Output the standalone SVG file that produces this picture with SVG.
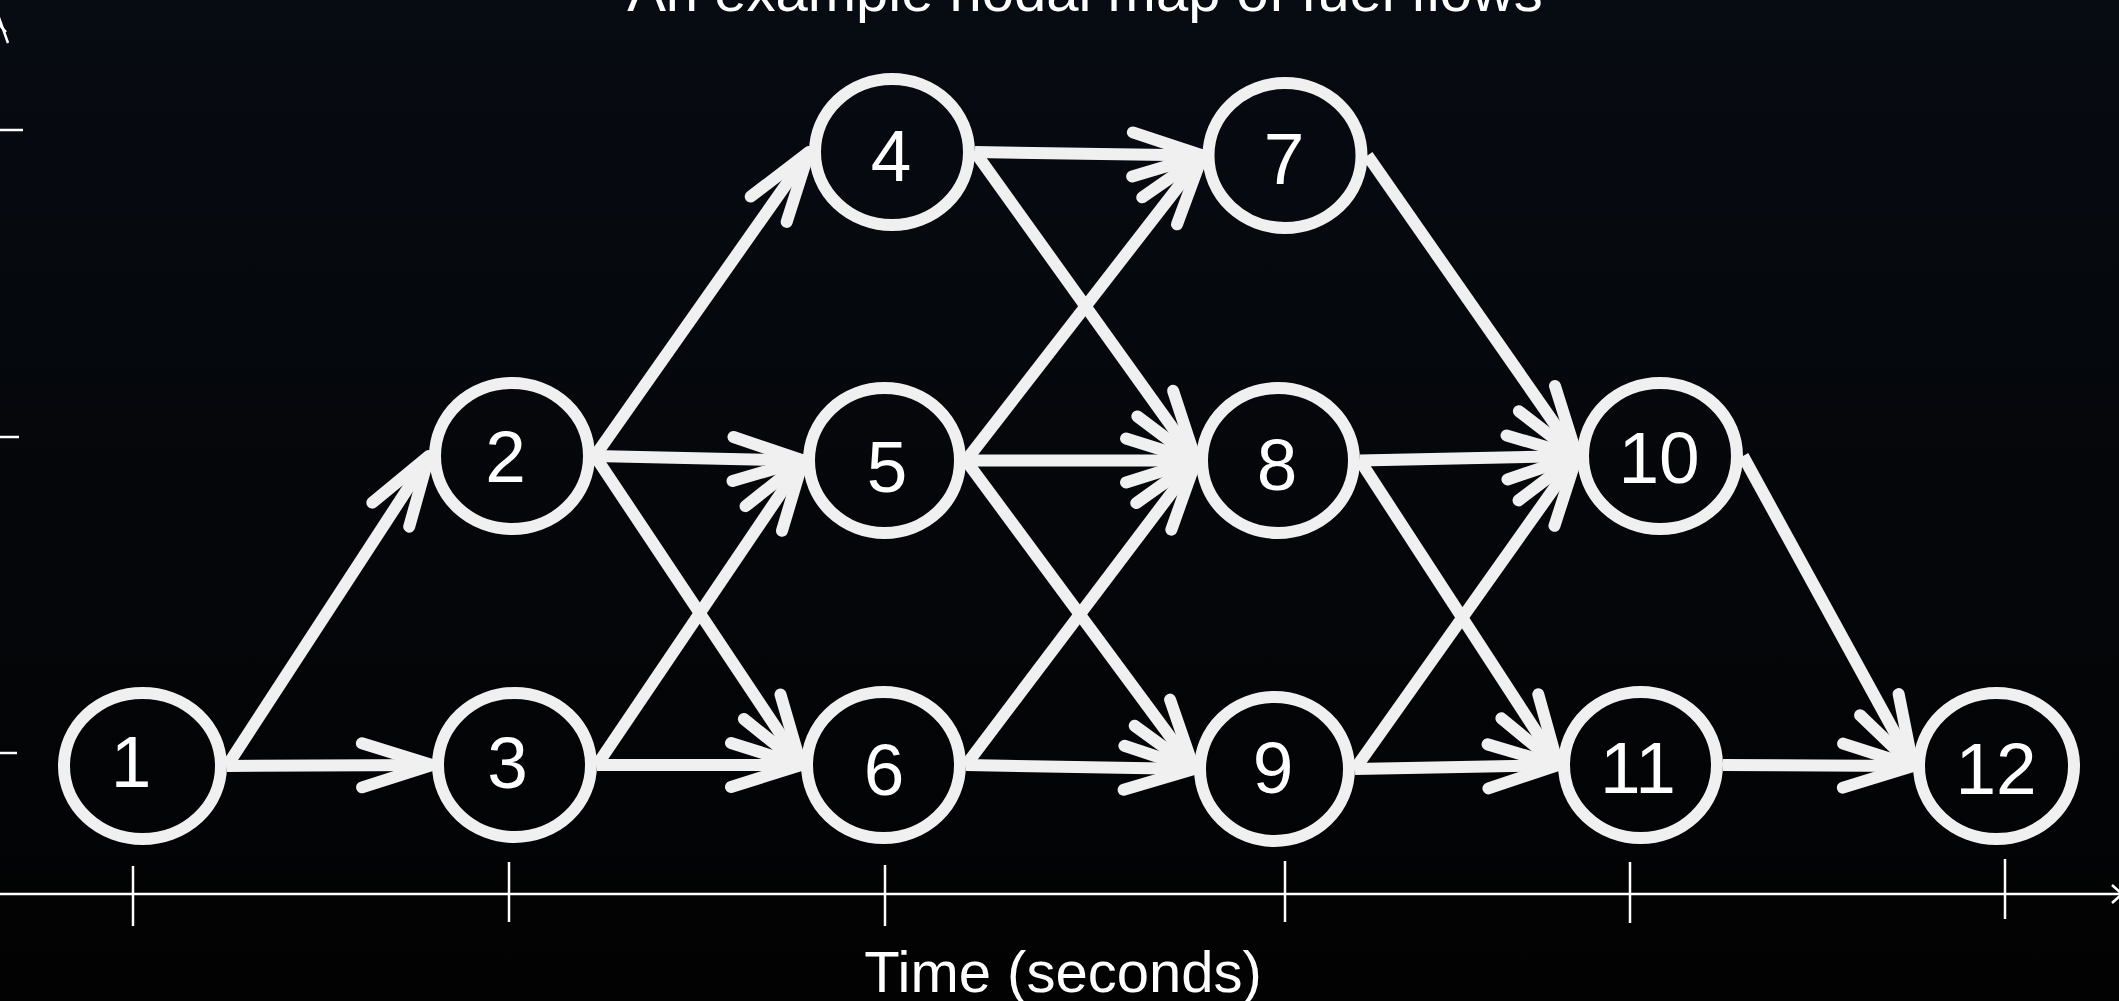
<svg xmlns="http://www.w3.org/2000/svg" width="2119" height="1001" viewBox="0 0 2119 1001">
  <defs>
    <linearGradient id="bg" gradientUnits="userSpaceOnUse" x1="0" y1="0" x2="0" y2="1001">
      <stop offset="0" stop-color="#070b12"/>
      <stop offset="1" stop-color="#020202"/>
    </linearGradient>
    <marker id="chev" markerUnits="userSpaceOnUse" orient="auto" refX="0" refY="0" markerWidth="200" markerHeight="200" viewBox="-100 -100 200 200" overflow="visible">
      <path d="M-70,-22 L0,0 L-70,22" fill="none" stroke="#f0f0f0" stroke-width="12" stroke-linecap="round" stroke-linejoin="round"/>
    </marker>
    <marker id="axarrow" markerUnits="userSpaceOnUse" orient="auto" refX="0" refY="0" markerWidth="40" markerHeight="40" viewBox="-20 -20 40 40" overflow="visible">
      <path d="M-10,-9 L0,0 L-10,9" fill="none" stroke="#ffffff" stroke-width="2.5"/>
    </marker>
    <style>
      .edge { fill: none; stroke: #f0f0f0; stroke-width: 12; marker-end: url(#chev); }
      .node ellipse { fill: url(#bg); stroke: #f0f0f0; stroke-width: 12; }
      .node text { font-family: "Liberation Sans", Arial, sans-serif; font-size: 73px; fill: #ffffff; text-anchor: middle; }
      .axis { stroke: #ffffff; stroke-width: 2.5; fill: none; }
      .lbl { font-family: "Liberation Sans", Arial, sans-serif; font-size: 58px; fill: #ffffff; text-anchor: middle; }
    </style>
  </defs>
  <rect x="0" y="0" width="2119" height="1001" fill="url(#bg)"/>

  <g id="title">
    <text class="lbl" x="1085" y="11">An example nodal map of fuel flows</text>
  </g>

  <g id="axes">
    <line class="axis" x1="-3" y1="1001" x2="-3" y2="22" marker-end="url(#axarrow)"/>
    <path class="axis" d="M-14,24 L-3,12 L8,43" stroke-width="2"/>
    <line class="axis" x1="0" y1="130" x2="23" y2="130"/>
    <line class="axis" x1="0" y1="437" x2="19" y2="437"/>
    <line class="axis" x1="0" y1="753" x2="17" y2="753"/>
    <line class="axis" x1="0" y1="894" x2="2122" y2="894" marker-end="url(#axarrow)"/>
    <line class="axis" x1="133" y1="866" x2="133" y2="926"/>
    <line class="axis" x1="509" y1="862" x2="509" y2="922"/>
    <line class="axis" x1="885" y1="865" x2="885" y2="926"/>
    <line class="axis" x1="1285" y1="861" x2="1285" y2="922"/>
    <line class="axis" x1="1630" y1="862" x2="1630" y2="923"/>
    <line class="axis" x1="2005" y1="859" x2="2005" y2="919"/>
    <text class="lbl" x="1063" y="992">Time (seconds)</text>
  </g>

  <g id="connectors">
    <line class="edge" x1="227" y1="766" x2="429" y2="456"/>
    <line class="edge" x1="227" y1="766" x2="432" y2="765"/>
    <line class="edge" x1="595" y1="456" x2="809" y2="152"/>
    <line class="edge" x1="595" y1="456" x2="803" y2="460.5"/>
    <line class="edge" x1="595" y1="456" x2="801" y2="765"/>
    <line class="edge" x1="597" y1="765" x2="803" y2="460.5"/>
    <line class="edge" x1="597" y1="765" x2="801" y2="765"/>
    <line class="edge" x1="975" y1="152" x2="1202.5" y2="155.5"/>
    <line class="edge" x1="975" y1="152" x2="1196" y2="460.5"/>
    <line class="edge" x1="966" y1="460.5" x2="1202.5" y2="155.5"/>
    <line class="edge" x1="966" y1="460.5" x2="1196" y2="460.5"/>
    <line class="edge" x1="966" y1="460.5" x2="1194" y2="769"/>
    <line class="edge" x1="966" y1="765" x2="1196" y2="460.5"/>
    <line class="edge" x1="966" y1="765" x2="1194" y2="769"/>
    <line class="edge" x1="1367.5" y1="155.5" x2="1577" y2="456"/>
    <line class="edge" x1="1360" y1="460.5" x2="1577" y2="456"/>
    <line class="edge" x1="1360" y1="460.5" x2="1558" y2="765"/>
    <line class="edge" x1="1355" y1="769" x2="1577" y2="456"/>
    <line class="edge" x1="1355" y1="769" x2="1558" y2="765"/>
    <line class="edge" x1="1743" y1="456" x2="1913" y2="766"/>
    <line class="edge" x1="1723" y1="765" x2="1913" y2="766"/>
  </g>

  <g id="node1" class="node"><ellipse cx="142.5" cy="766" rx="78.5" ry="73"/><text x="131" y="787">1</text></g>
  <g id="node2" class="node"><ellipse cx="512" cy="456" rx="77" ry="73"/><text x="505.5" y="482">2</text></g>
  <g id="node3" class="node"><ellipse cx="514.5" cy="765" rx="76.5" ry="72"/><text x="507.5" y="788">3</text></g>
  <g id="node4" class="node"><ellipse cx="892" cy="152" rx="77" ry="73"/><text x="891" y="181">4</text></g>
  <g id="node5" class="node"><ellipse cx="884.5" cy="460.5" rx="75.5" ry="72.5"/><text x="887" y="492">5</text></g>
  <g id="node6" class="node"><ellipse cx="883.5" cy="765" rx="76.5" ry="73"/><text x="884" y="795">6</text></g>
  <g id="node7" class="node"><ellipse cx="1285" cy="155.5" rx="76.5" ry="72.5"/><text x="1284" y="184">7</text></g>
  <g id="node8" class="node"><ellipse cx="1278" cy="460.5" rx="76" ry="72.5"/><text x="1277" y="490">8</text></g>
  <g id="node9" class="node"><ellipse cx="1274.5" cy="769" rx="74.5" ry="72"/><text x="1273" y="793">9</text></g>
  <g id="node10" class="node"><ellipse cx="1660" cy="456" rx="77" ry="73"/><text x="1659" y="483">10</text></g>
  <g id="node11" class="node"><ellipse cx="1640.5" cy="765" rx="76.5" ry="73"/><text x="1638" y="793">11</text></g>
  <g id="node12" class="node"><ellipse cx="1996.5" cy="766" rx="77.5" ry="73"/><text x="1996" y="794">12</text></g>
</svg>
